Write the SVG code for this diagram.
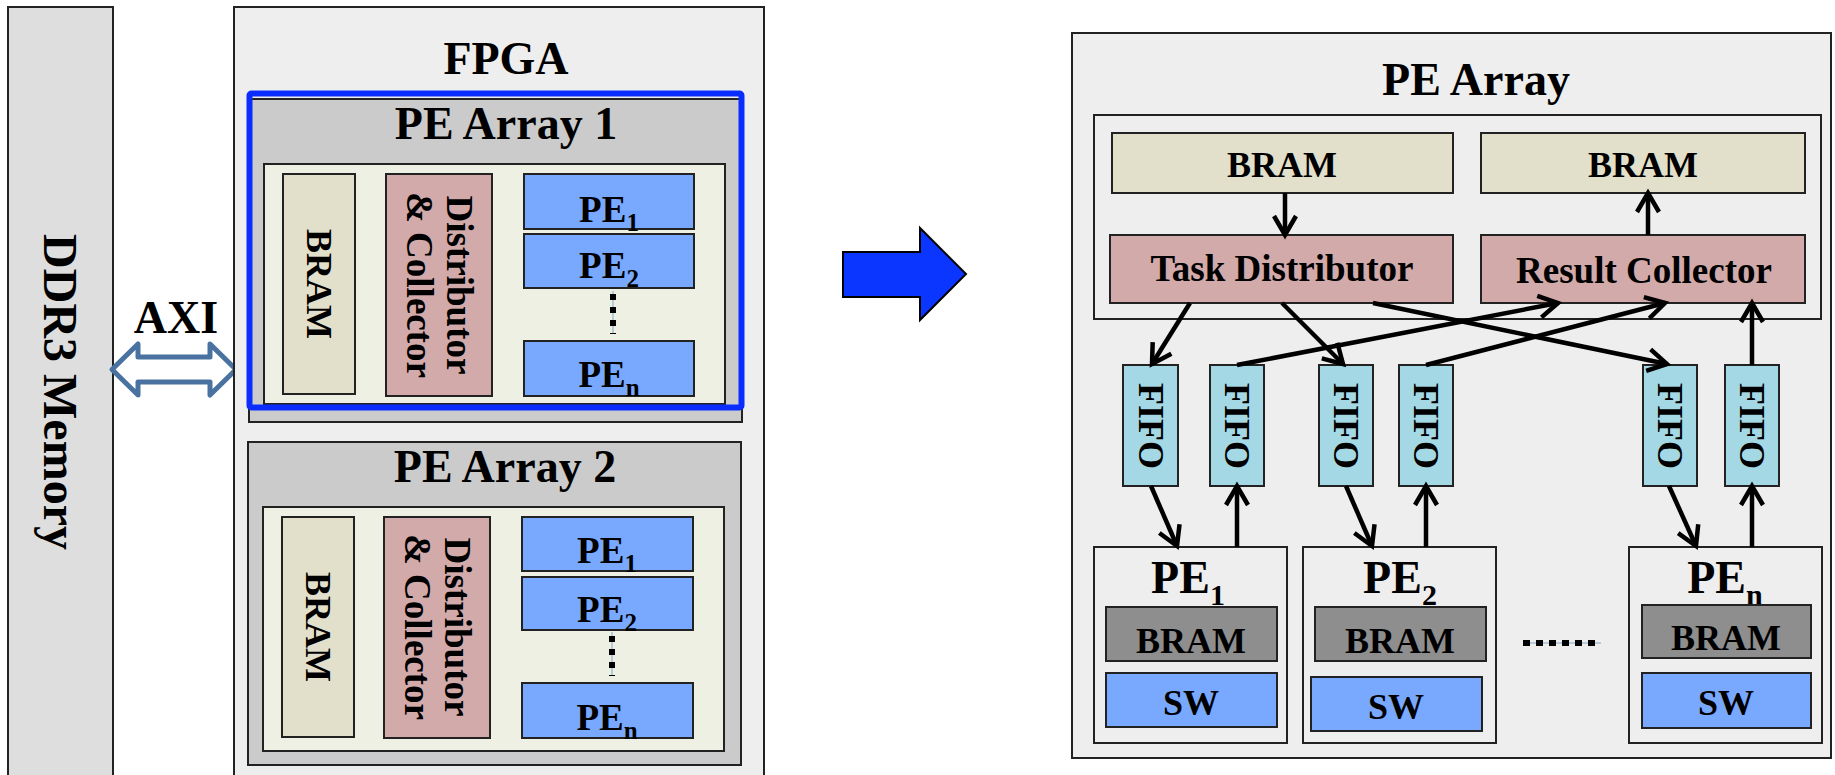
<svg xmlns="http://www.w3.org/2000/svg" width="1835" height="775" viewBox="0 0 1835 775">
<defs>
<style>
text{font-family:"Liberation Serif","Times New Roman",serif;font-weight:bold;fill:#000;}
.bx{stroke:#222;stroke-width:2;}
.gray{fill:#eeeeee;}
.arr{fill:#cbcbcb;}
.inner{fill:#eef0e3;}
.beige{fill:#e2dfcb;}
.pink{fill:#d2aaaa;}
.blue{fill:#78a9ff;}
.fifo{fill:#a4d8e4;}
.dark{fill:#8e8e8e;}
.ln{stroke:#000;stroke-width:4.5;fill:none;}
.t46{font-size:46px;text-anchor:middle;}
.t36{font-size:36px;text-anchor:middle;}
.t37{font-size:37px;text-anchor:middle;}
.dots{stroke:#000;stroke-width:6;stroke-dasharray:6 7;fill:none;}
.thin{stroke:#7fa7c9;stroke-width:1;}
</style>
<marker id="ah" markerUnits="userSpaceOnUse" markerWidth="40" markerHeight="40" viewBox="-25 -20 40 40" refX="0" refY="0" orient="auto" overflow="visible">
<path d="M-19,-11 L0,0 L-19,11" fill="none" stroke="#000" stroke-width="4.5"/>
</marker>
</defs>
<rect width="1835" height="775" fill="#fff"/>

<g id="ddr3">
<rect x="8" y="7" width="105" height="780" fill="#dedede" class="bx"/>
<text class="t46" style="font-size:48px" transform="translate(60,392) rotate(90)" y="16">DDR3 Memory</text>
</g>

<g id="axi">
<text class="t46" x="176" y="333">AXI</text>
<path d="M112,369.5 L138,344 L138,357 L210,357 L210,344 L236,369.5 L210,395 L210,382 L138,382 L138,395 Z" fill="#fff" stroke="#4a72a0" stroke-width="5" stroke-linejoin="round"/>
</g>

<g id="fpga">
<rect x="234" y="7" width="530" height="780" class="gray bx"/>
<text class="t46" x="506" y="74">FPGA</text>
</g>

<g id="pe-array-1">
<rect x="249" y="99" width="493" height="323" class="arr bx"/>
<text class="t46" x="506" y="139">PE Array 1</text>
<rect x="264" y="164" width="461" height="240" class="inner bx"/>
<rect x="283" y="174" width="72" height="220" class="beige bx"/>
<text class="t36" transform="translate(319,284) rotate(90)" y="12">BRAM</text>
<rect x="386" y="174" width="106" height="222" class="pink bx"/>
<text class="t37" transform="translate(439,285) rotate(90)" y="-8">Distributor</text>
<text class="t37" transform="translate(439,285) rotate(90)" y="32">&amp; Collector</text>
<rect x="524" y="174" width="170" height="55" class="blue bx"/>
<text class="t37" x="609" y="222">PE<tspan style="font-size:25px" dy="9">1</tspan></text>
<rect x="524" y="234" width="170" height="54" class="blue bx"/>
<text class="t37" x="609" y="278">PE<tspan style="font-size:25px" dy="9">2</tspan></text>
<line x1="613" y1="291" x2="613" y2="334" class="thin"/>
<line x1="613" y1="294" x2="613" y2="334" class="dots"/>
<rect x="524" y="341" width="170" height="55" class="blue bx"/>
<text class="t37" x="609" y="387">PE<tspan style="font-size:25px" dy="9">n</tspan></text>
<rect x="249.5" y="93.5" width="492" height="314" fill="none" stroke="#0a2cff" stroke-width="6" rx="2"/>
</g>

<g id="pe-array-2">
<rect x="248" y="442" width="493" height="323" class="arr bx"/>
<text class="t46" x="505" y="482">PE Array 2</text>
<rect x="263" y="507" width="461" height="244" class="inner bx"/>
<rect x="282" y="517" width="72" height="220" class="beige bx"/>
<text class="t36" transform="translate(318,627) rotate(90)" y="12">BRAM</text>
<rect x="384" y="517" width="106" height="221" class="pink bx"/>
<text class="t37" transform="translate(437,627) rotate(90)" y="-8">Distributor</text>
<text class="t37" transform="translate(437,627) rotate(90)" y="32">&amp; Collector</text>
<rect x="522" y="517" width="171" height="54" class="blue bx"/>
<text class="t37" x="607" y="563">PE<tspan style="font-size:25px" dy="9">1</tspan></text>
<rect x="522" y="577" width="171" height="53" class="blue bx"/>
<text class="t37" x="607" y="622">PE<tspan style="font-size:25px" dy="9">2</tspan></text>
<line x1="612" y1="632" x2="612" y2="676" class="thin"/>
<line x1="612" y1="636" x2="612" y2="676" class="dots"/>
<rect x="522" y="683" width="171" height="55" class="blue bx"/>
<text class="t37" x="607" y="730">PE<tspan style="font-size:25px" dy="9">n</tspan></text>
</g>

<g id="big-arrow">
<path d="M843,252 L920,252 L920,228 L966,274 L920,320 L920,297 L843,297 Z" fill="#0a36ff" stroke="#000" stroke-width="2"/>
</g>

<g id="pe-array">
<rect x="1072" y="33" width="759" height="725" class="gray bx"/>
<text class="t46" x="1476" y="95">PE Array</text>
<rect x="1094" y="115" width="727" height="204" class="gray bx"/>
</g>

<g id="bram-in">
<rect x="1112" y="133" width="341" height="60" class="beige bx"/>
<text class="t36" x="1282" y="177">BRAM</text>
</g>
<g id="bram-out">
<rect x="1481" y="133" width="324" height="60" class="beige bx"/>
<text class="t36" x="1643" y="177">BRAM</text>
</g>
<g id="task-distributor">
<rect x="1110" y="235" width="343" height="68" class="pink bx"/>
<text class="t37" x="1282" y="281">Task Distributor</text>
</g>
<g id="result-collector">
<rect x="1481" y="235" width="324" height="68" class="pink bx"/>
<text class="t37" x="1644" y="283">Result Collector</text>
</g>

<g id="fifo1"><rect x="1123" y="365" width="55" height="121" class="fifo bx"/><text class="t36" transform="translate(1150.5,426) rotate(90)" y="12">FIFO</text></g>
<g id="fifo2"><rect x="1210" y="365" width="54" height="121" class="fifo bx"/><text class="t36" transform="translate(1237,426) rotate(90)" y="12">FIFO</text></g>
<g id="fifo3"><rect x="1319" y="365" width="54" height="121" class="fifo bx"/><text class="t36" transform="translate(1346,426) rotate(90)" y="12">FIFO</text></g>
<g id="fifo4"><rect x="1399" y="365" width="54" height="121" class="fifo bx"/><text class="t36" transform="translate(1426,426) rotate(90)" y="12">FIFO</text></g>
<g id="fifo5"><rect x="1643" y="365" width="54" height="121" class="fifo bx"/><text class="t36" transform="translate(1670,426) rotate(90)" y="12">FIFO</text></g>
<g id="fifo6"><rect x="1725" y="365" width="54" height="121" class="fifo bx"/><text class="t36" transform="translate(1752,426) rotate(90)" y="12">FIFO</text></g>

<g id="pe1">
<rect x="1094" y="547" width="193" height="196" class="gray bx"/>
<text class="t46" x="1188" y="593">PE<tspan style="font-size:30px" dy="12">1</tspan></text>
<rect x="1106" y="607" width="171" height="54" class="dark bx"/>
<text class="t36" x="1191" y="653">BRAM</text>
<rect x="1106" y="673" width="171" height="54" class="blue bx"/>
<text class="t36" x="1191" y="715">SW</text>
</g>
<g id="pe2">
<rect x="1303" y="547" width="193" height="196" class="gray bx"/>
<text class="t46" x="1400" y="593">PE<tspan style="font-size:30px" dy="12">2</tspan></text>
<rect x="1315" y="607" width="171" height="54" class="dark bx"/>
<text class="t36" x="1400" y="653">BRAM</text>
<rect x="1311" y="677" width="171" height="54" class="blue bx"/>
<text class="t36" x="1396" y="719">SW</text>
</g>
<g id="pen">
<rect x="1629" y="547" width="193" height="196" class="gray bx"/>
<text class="t46" x="1725" y="593">PE<tspan style="font-size:30px" dy="12">n</tspan></text>
<rect x="1642" y="605" width="169" height="53" class="dark bx"/>
<text class="t36" x="1726" y="650">BRAM</text>
<rect x="1642" y="673" width="169" height="55" class="blue bx"/>
<text class="t36" x="1726" y="715">SW</text>
</g>

<g id="ellipsis">
<line x1="1523" y1="643" x2="1601" y2="643" class="thin"/>
<line x1="1523" y1="643" x2="1601" y2="643" stroke="#000" stroke-width="6" stroke-dasharray="7 6"/>
</g>

<g id="connectors">
<line x1="1285" y1="193" x2="1285" y2="235" class="ln" marker-end="url(#ah)"/>
<line x1="1648" y1="235" x2="1648" y2="193" class="ln" marker-end="url(#ah)"/>
<line x1="1190" y1="303" x2="1152" y2="364" class="ln" marker-end="url(#ah)"/>
<line x1="1282" y1="303" x2="1343" y2="364" class="ln" marker-end="url(#ah)"/>
<line x1="1373" y1="303" x2="1667" y2="364" class="ln" marker-end="url(#ah)"/>
<line x1="1237" y1="365" x2="1558" y2="303" class="ln" marker-end="url(#ah)"/>
<line x1="1426" y1="365" x2="1665" y2="303" class="ln" marker-end="url(#ah)"/>
<line x1="1752" y1="365" x2="1752" y2="303" class="ln" marker-end="url(#ah)"/>
<line x1="1151" y1="486" x2="1177" y2="546" class="ln" marker-end="url(#ah)"/>
<line x1="1237" y1="547" x2="1237" y2="486" class="ln" marker-end="url(#ah)"/>
<line x1="1346" y1="486" x2="1372" y2="546" class="ln" marker-end="url(#ah)"/>
<line x1="1426" y1="547" x2="1426" y2="486" class="ln" marker-end="url(#ah)"/>
<line x1="1669" y1="486" x2="1696" y2="546" class="ln" marker-end="url(#ah)"/>
<line x1="1752" y1="547" x2="1752" y2="486" class="ln" marker-end="url(#ah)"/>
</g>
</svg>
